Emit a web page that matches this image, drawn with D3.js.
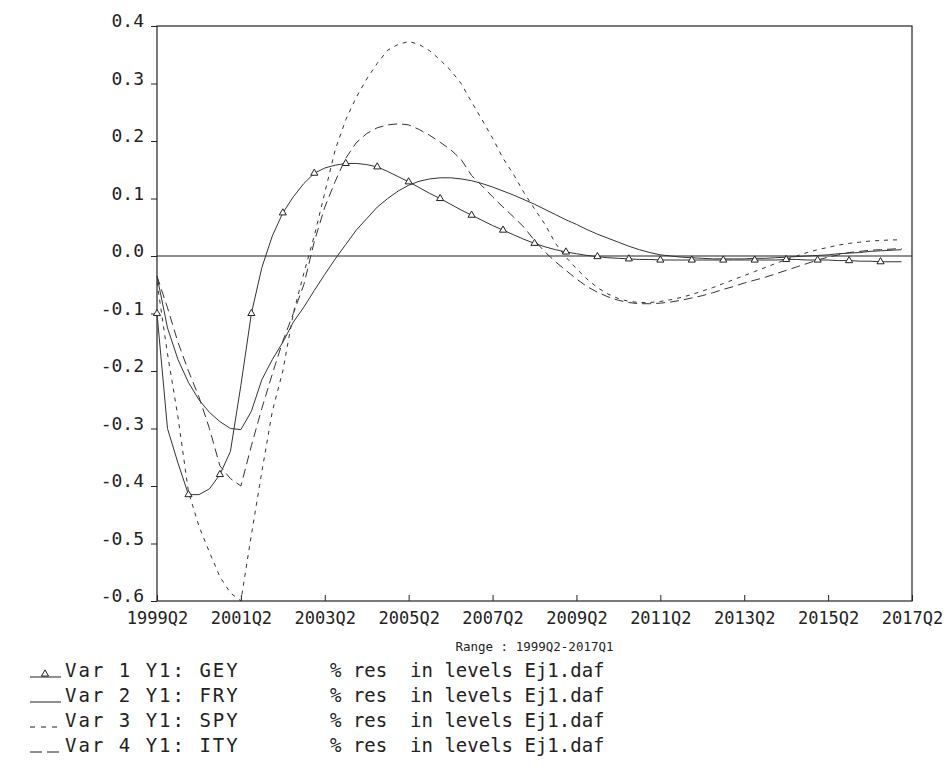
<!DOCTYPE html>
<html>
<head>
<meta charset="utf-8">
<script src="https://cdn.jsdelivr.net/npm/d3@7"></script>
<style>
body{margin:0;background:#fff}
text{font-family:"DejaVu Sans Mono",monospace;fill:#222}
</style>
</head>
<body>
<script>
// impulse responses, quarterly 1999Q2 .. 2017Q1
var gey=[-0.100,-0.300,-0.360,-0.415,-0.415,-0.405,-0.380,-0.340,-0.225,-0.100,
	-0.020,0.035,0.075,0.103,0.126,0.144,0.153,0.158,0.161,0.161,
	0.159,0.155,0.147,0.138,0.129,0.119,0.109,0.100,0.090,0.080,
	0.071,0.062,0.053,0.045,0.037,0.029,0.022,0.016,0.011,0.007,
	0.004,0.001,-0.001,-0.003,-0.004,-0.005,-0.006,-0.006,-0.007,-0.007,
	-0.007,-0.007,-0.007,-0.007,-0.007,-0.007,-0.007,-0.007,-0.007,-0.007,
	-0.006,-0.006,-0.007,-0.007,-0.007,-0.008,-0.008,-0.009,-0.009,-0.010,
	-0.010,-0.010]
var fry=[-0.035,-0.125,-0.180,-0.220,-0.250,-0.272,-0.288,-0.300,-0.302,-0.270,
	-0.215,-0.180,-0.150,-0.115,-0.089,-0.060,-0.032,-0.005,0.020,0.045,
	0.065,0.085,0.100,0.113,0.123,0.130,0.134,0.136,0.136,0.134,
	0.131,0.126,0.120,0.113,0.106,0.098,0.090,0.081,0.072,0.063,
	0.055,0.046,0.038,0.031,0.024,0.017,0.011,0.006,0.002,0.000,
	-0.002,-0.003,-0.004,-0.005,-0.005,-0.005,-0.005,-0.004,-0.004,-0.003,
	-0.002,-0.001,0.000,0.001,0.002,0.004,0.005,0.006,0.008,0.009,
	0.010,0.011]
var spy=[-0.045,-0.170,-0.280,-0.410,-0.470,-0.515,-0.558,-0.586,-0.600,-0.485,
	-0.375,-0.270,-0.200,-0.100,-0.030,0.035,0.110,0.185,0.237,0.276,
	0.308,0.335,0.358,0.368,0.373,0.368,0.357,0.341,0.323,0.300,
	0.268,0.237,0.205,0.170,0.142,0.110,0.082,0.055,0.022,-0.002,
	-0.022,-0.040,-0.055,-0.066,-0.074,-0.079,-0.081,-0.081,-0.079,-0.076,
	-0.072,-0.067,-0.061,-0.055,-0.048,-0.041,-0.034,-0.027,-0.020,-0.013,
	-0.006,0.000,0.006,0.011,0.015,0.019,0.022,0.024,0.026,0.027,
	0.028,0.028]
var ity=[-0.035,-0.090,-0.150,-0.200,-0.245,-0.300,-0.365,-0.387,-0.400,-0.330,
	-0.265,-0.205,-0.148,-0.100,-0.050,0.025,0.085,0.130,0.170,0.197,
	0.213,0.223,0.228,0.230,0.228,0.220,0.210,0.198,0.185,0.168,
	0.140,0.122,0.103,0.085,0.068,0.050,0.027,0.007,-0.010,-0.025,
	-0.040,-0.053,-0.063,-0.071,-0.077,-0.081,-0.083,-0.083,-0.082,-0.080,
	-0.077,-0.073,-0.069,-0.064,-0.058,-0.053,-0.047,-0.042,-0.037,-0.031,
	-0.025,-0.019,-0.013,-0.007,-0.002,0.002,0.006,0.008,0.010,0.011,
	0.012,0.013]

var tick_labels=["1999Q2","2001Q2","2003Q2","2005Q2","2007Q2","2009Q2","2011Q2","2013Q2","2015Q2","2017Q2"]
var y_ticks=[0.4,0.3,0.2,0.1,0.0,-0.1,-0.2,-0.3,-0.4,-0.5,-0.6]
var series_names=["Var 1 Y1: GEY","Var 2 Y1: FRY","Var 3 Y1: SPY","Var 4 Y1: ITY"]
var range_label="Range : 1999Q2-2017Q1"

var W=946,H=779
var plot={left:157,right:912,top:26,bottom:601}

const svg=d3.select("body").append("svg").attr("width",W).attr("height",H)
svg.append("rect").attr("width",W).attr("height",H).attr("fill","#fff")

var x=d3.scaleLinear().domain([0,(tick_labels.length-1)*8]).range([plot.left,plot.right])
var y=d3.scaleLinear().domain([-0.6,0.4]).range([plot.bottom,plot.top])

// frame
svg.append("rect").attr("x",plot.left).attr("y",plot.top)
	.attr("width",plot.right-plot.left).attr("height",plot.bottom-plot.top)
	.attr("fill","none").attr("stroke","#222").attr("stroke-width",1.2)

// y axis
var ya=svg.append("g").attr("transform","translate("+plot.left+",0)")
	.call(d3.axisLeft(y).tickValues(y_ticks).tickSize(6).tickPadding(7).tickFormat(d=>d.toFixed(1)))
ya.select(".domain").remove()
ya.selectAll("line").attr("stroke","#222")
ya.selectAll("text").attr("font-size",18).attr("dy","0.05em").attr("fill","#333")

// x axis, ticks inside
var xa=svg.append("g").attr("transform","translate(0,"+plot.bottom+")")
	.call(d3.axisBottom(x).tickValues(tick_labels.map((d,i)=>i*8)).tickSizeInner(-6).tickSizeOuter(0).tickPadding(11)
		.tickFormat((d,i)=>tick_labels[i]))
xa.select(".domain").remove()
xa.selectAll("line").attr("stroke","#222")
xa.selectAll("text").attr("font-size",17).attr("fill","#333")

// zero line
svg.append("line").attr("x1",plot.left).attr("x2",plot.right)
	.attr("y1",y(0)).attr("y2",y(0)).attr("stroke","#222").attr("stroke-width",1.2)

var line=d3.line().x((d,i)=>x(i)).y(d=>y(d))
var styles=[
	{data:gey,dash:null},
	{data:fry,dash:null},
	{data:spy,dash:"4,5"},
	{data:ity,dash:"9,5"}
]
svg.selectAll("path.series").data(styles).join("path")
	.attr("class","series")
	.attr("d",d=>line(d.data))
	.attr("fill","none").attr("stroke","#333").attr("stroke-width",1)
	.attr("stroke-dasharray",d=>d.dash)

var tri=d3.symbol().type(d3.symbolTriangle).size(22)
svg.selectAll("path.mark").data(gey.map((v,i)=>({v:v,i:i})).filter(d=>d.i%3==0)).join("path")
	.attr("class","mark")
	.attr("d",tri)
	.attr("transform",d=>"translate("+x(d.i)+","+y(d.v)+")")
	.attr("fill","#fff").attr("stroke","#222").attr("stroke-width",1)

svg.append("text").attr("x",(plot.left+plot.right)/2).attr("y",651)
	.attr("text-anchor","middle").attr("font-size",12.5).text(range_label)

// legend
var leg=svg.selectAll("g.leg").data(series_names).join("g").attr("class","leg")
	.attr("transform",(d,i)=>"translate(0,"+(677+i*25)+")")
leg.each(function(d,i){
	var g=d3.select(this)
	if(i==0||i==1){
		g.append("line").attr("x1",30).attr("x2",61).attr("y1",0).attr("y2",0).attr("stroke","#222")
	}
	if(i==0){
		g.append("path").attr("d",tri).attr("transform","translate(45,-3)").attr("fill","#fff").attr("stroke","#222")
	}
	if(i==2){
		g.append("line").attr("x1",30).attr("x2",61).attr("y1",0).attr("y2",0).attr("stroke","#222").attr("stroke-dasharray","5,6")
	}
	if(i==3){
		g.append("line").attr("x1",30).attr("x2",61).attr("y1",0).attr("y2",0).attr("stroke","#222").attr("stroke-dasharray","12,5")
	}
	g.append("text").attr("x",65).attr("y",0).attr("font-size",19).attr("letter-spacing",2).text(d)
	g.append("text").attr("x",330).attr("y",0).attr("font-size",19).attr("xml:space","preserve").text("% res  in levels Ej1.daf")
})
</script>
</body>
</html>
